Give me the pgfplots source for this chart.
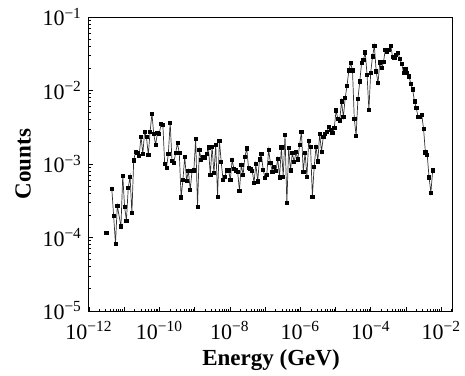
\documentclass[border=0pt]{standalone}
\usepackage{fontspec}
\setmainfont{Liberation Serif}
\usepackage{pgfplots}
\usepackage{pgfplotstable}
\pgfplotsset{compat=1.18}
\pgfplotstableread{
x y
4.446e-12 4.59e-4
5.012e-12 1.95e-4
5.649e-12 8.26e-5
6.360e-12 2.72e-4
8.070e-12 1.42e-4
9.090e-12 6.97e-4
1.024e-11 2.61e-4
1.154e-11 1.70e-4
1.300e-11 4.69e-4
1.465e-11 6.76e-4
1.650e-11 2.14e-4
1.859e-11 1.12e-3
2.094e-11 1.48e-3
2.359e-11 1.41e-3
2.658e-11 1.29e-3
2.994e-11 2.37e-3
3.373e-11 1.38e-3
3.799e-11 2.77e-3
4.280e-11 2.32e-3
4.823e-11 1.33e-3
5.433e-11 2.77e-3
6.120e-11 4.82e-3
6.896e-11 2.55e-3
7.767e-11 1.82e-3
8.750e-11 2.63e-3
9.856e-11 2.55e-3
1.110e-10 3.49e-3
1.251e-10 3.42e-3
1.409e-10 9.95e-4
1.587e-10 8.95e-4
1.788e-10 1.38e-3
2.015e-10 3.67e-3
2.270e-10 1.10e-3
2.557e-10 1.05e-3
2.881e-10 1.41e-3
3.245e-10 1.92e-3
3.656e-10 1.41e-3
4.119e-10 3.53e-4
4.640e-10 6.08e-4
5.227e-10 1.26e-3
5.888e-10 5.96e-4
6.634e-10 8.07e-4
7.473e-10 4.45e-4
8.418e-10 8.07e-4
9.484e-10 8.20e-4
1.068e-9 2.22e-3
1.204e-9 2.64e-4
1.356e-9 1.56e-3
1.528e-9 1.14e-3
1.721e-9 1.23e-3
1.939e-9 1.22e-3
2.184e-9 1.38e-3
2.460e-9 1.69e-3
2.772e-9 7.13e-4
3.122e-9 1.73e-3
3.517e-9 7.50e-4
3.963e-9 1.82e-3
4.464e-9 3.61e-4
5.029e-9 2.09e-3
5.665e-9 1.06e-3
6.383e-9 6.08e-4
7.190e-9 6.76e-4
8.100e-9 8.20e-4
9.125e-9 8.20e-4
1.028e-8 6.08e-4
1.158e-8 1.14e-3
1.305e-8 8.51e-4
1.470e-8 8.20e-4
1.656e-8 7.90e-4
1.865e-8 4.32e-4
2.101e-8 9.75e-4
2.367e-8 7.13e-4
2.667e-8 1.26e-3
3.004e-8 1.63e-3
3.385e-8 8.77e-4
3.813e-8 8.51e-4
4.295e-8 8.07e-4
4.839e-8 5.60e-4
5.451e-8 1.00e-3
6.141e-8 5.80e-4
6.918e-8 1.16e-3
7.794e-8 1.37e-3
8.780e-8 8.35e-4
9.890e-8 6.55e-4
1.114e-7 7.13e-4
1.255e-7 1.56e-3
1.414e-7 1.03e-3
1.593e-7 7.90e-4
1.795e-7 9.25e-4
2.022e-7 8.07e-4
2.278e-7 1.18e-3
2.566e-7 6.60e-4
2.891e-7 1.69e-3
3.256e-7 6.76e-4
3.669e-7 2.49e-3
4.133e-7 2.93e-4
4.656e-7 1.64e-3
5.245e-7 8.20e-4
5.909e-7 1.41e-3
6.657e-7 1.06e-3
7.499e-7 1.45e-3
8.448e-7 1.16e-3
9.517e-7 1.82e-3
1.072e-6 2.77e-3
1.208e-6 7.90e-4
1.361e-6 1.41e-3
1.533e-6 6.76e-4
1.727e-6 2.09e-3
1.945e-6 1.73e-3
2.191e-6 3.61e-4
2.469e-6 9.25e-4
2.781e-6 1.73e-3
3.133e-6 1.09e-3
3.529e-6 2.58e-3
3.976e-6 1.48e-3
4.479e-6 2.32e-3
5.047e-6 2.58e-3
5.685e-6 2.77e-3
6.405e-6 3.18e-3
7.215e-6 2.92e-3
8.128e-6 2.63e-3
9.157e-6 3.08e-3
1.032e-5 5.36e-3
1.162e-5 4.08e-3
1.309e-5 3.92e-3
1.475e-5 7.10e-3
1.662e-5 4.35e-3
1.872e-5 7.89e-3
2.109e-5 1.16e-2
2.376e-5 1.88e-2
2.676e-5 2.36e-2
3.015e-5 1.88e-2
3.396e-5 4.08e-3
3.826e-5 2.44e-3
4.310e-5 7.73e-3
4.856e-5 1.33e-2
5.470e-5 2.36e-2
6.163e-5 2.62e-2
6.943e-5 3.30e-2
7.821e-5 1.64e-2
8.810e-5 5.47e-3
9.924e-5 1.76e-2
1.118e-4 2.91e-2
1.259e-4 4.07e-2
1.419e-4 1.82e-2
1.598e-4 1.26e-2
1.800e-4 2.41e-2
2.028e-4 2.02e-2
2.286e-4 2.43e-2
2.575e-4 3.59e-2
2.900e-4 3.41e-2
3.267e-4 3.59e-2
3.681e-4 4.07e-2
4.147e-4 2.85e-2
4.672e-4 2.76e-2
5.263e-4 3.07e-2
5.929e-4 3.24e-2
6.680e-4 2.68e-2
7.525e-4 2.29e-2
8.477e-4 1.76e-2
9.550e-4 1.96e-2
1.076e-3 1.76e-2
1.212e-3 1.56e-2
1.365e-3 1.24e-2
1.538e-3 1.04e-2
1.733e-3 7.10e-3
1.952e-3 5.77e-3
2.199e-3 4.35e-3
2.477e-3 4.35e-3
2.791e-3 4.68e-3
3.144e-3 2.99e-3
3.542e-3 1.44e-3
3.990e-3 1.33e-3
4.495e-3 6.60e-4
5.064e-3 4.09e-4
5.705e-3 8.20e-4
}\spectrum
\begin{document}
\begin{tikzpicture}
\begin{axis}[
  scale only axis, width=182pt, height=147pt,
  xmode=log, ymode=log,
  xmin=1e-12, xmax=2.15e-2, ymin=1e-5, ymax=1e-1,
  xtick={1e-12,1e-11,1e-10,1e-9,1e-8,1e-7,1e-6,1e-5,1e-4,1e-3,1e-2},
  xticklabels={10\textsuperscript{−12},,10\textsuperscript{−10},,10\textsuperscript{−8},,10\textsuperscript{−6},,10\textsuperscript{−4},,10\textsuperscript{−2}},
  ytick={1e-5,1e-4,1e-3,1e-2,1e-1},
  yticklabels={10\textsuperscript{−5},10\textsuperscript{−4},10\textsuperscript{−3},10\textsuperscript{−2},10\textsuperscript{−1}},
  minor xtick={2e-12,3e-12,4e-12,5e-12,6e-12,7e-12,8e-12,9e-12,
    2e-11,3e-11,4e-11,5e-11,6e-11,7e-11,8e-11,9e-11,
    2e-10,3e-10,4e-10,5e-10,6e-10,7e-10,8e-10,9e-10,
    2e-9,3e-9,4e-9,5e-9,6e-9,7e-9,8e-9,9e-9,
    2e-8,3e-8,4e-8,5e-8,6e-8,7e-8,8e-8,9e-8,
    2e-7,3e-7,4e-7,5e-7,6e-7,7e-7,8e-7,9e-7,
    2e-6,3e-6,4e-6,5e-6,6e-6,7e-6,8e-6,9e-6,
    2e-5,3e-5,4e-5,5e-5,6e-5,7e-5,8e-5,9e-5,
    2e-4,3e-4,4e-4,5e-4,6e-4,7e-4,8e-4,9e-4,
    2e-3,3e-3,4e-3,5e-3,6e-3,7e-3,8e-3,9e-3,2e-2},
  minor ytick={2e-5,3e-5,4e-5,5e-5,6e-5,7e-5,8e-5,9e-5,
    2e-4,3e-4,4e-4,5e-4,6e-4,7e-4,8e-4,9e-4,
    2e-3,3e-3,4e-3,5e-3,6e-3,7e-3,8e-3,9e-3,
    2e-2,3e-2,4e-2,5e-2,6e-2,7e-2,8e-2,9e-2},
  xtick pos=bottom, ytick pos=left,
  major tick length=2.2pt, minor tick length=1.1pt,
  tick style={black, line width=0.4pt},
  axis line style={black, line width=0.5pt},
  ticklabel style={font=\fontsize{11}{13}\selectfont},
  xticklabel style={yshift=-1.5pt},
  xlabel={Energy (GeV)}, ylabel={Counts},
  label style={font=\bfseries\fontsize{11.5}{13}\selectfont},
  xlabel style={at={(axis description cs:0.5,-0.185)}, anchor=base},
  ylabel style={at={(axis description cs:-0.181,0.5)}, anchor=center},
]
\addplot[only marks, mark=square*, mark size=0.8pt, black] coordinates {(3.11e-12,1.167e-4)};
\addplot[line width=0.35pt, color=black!80, mark=square*, mark size=0.8pt, mark options={black, solid}] table[x=x, y=y] {\spectrum};
\end{axis}
\path (current axis.south west) ++(-44.5pt,-32pt) coordinate (bl);
\path (current axis.north east) ++(6pt,8.5pt) coordinate (tr);
\pgfresetboundingbox
\useasboundingbox (bl) rectangle (tr);
\end{tikzpicture}
\end{document}
